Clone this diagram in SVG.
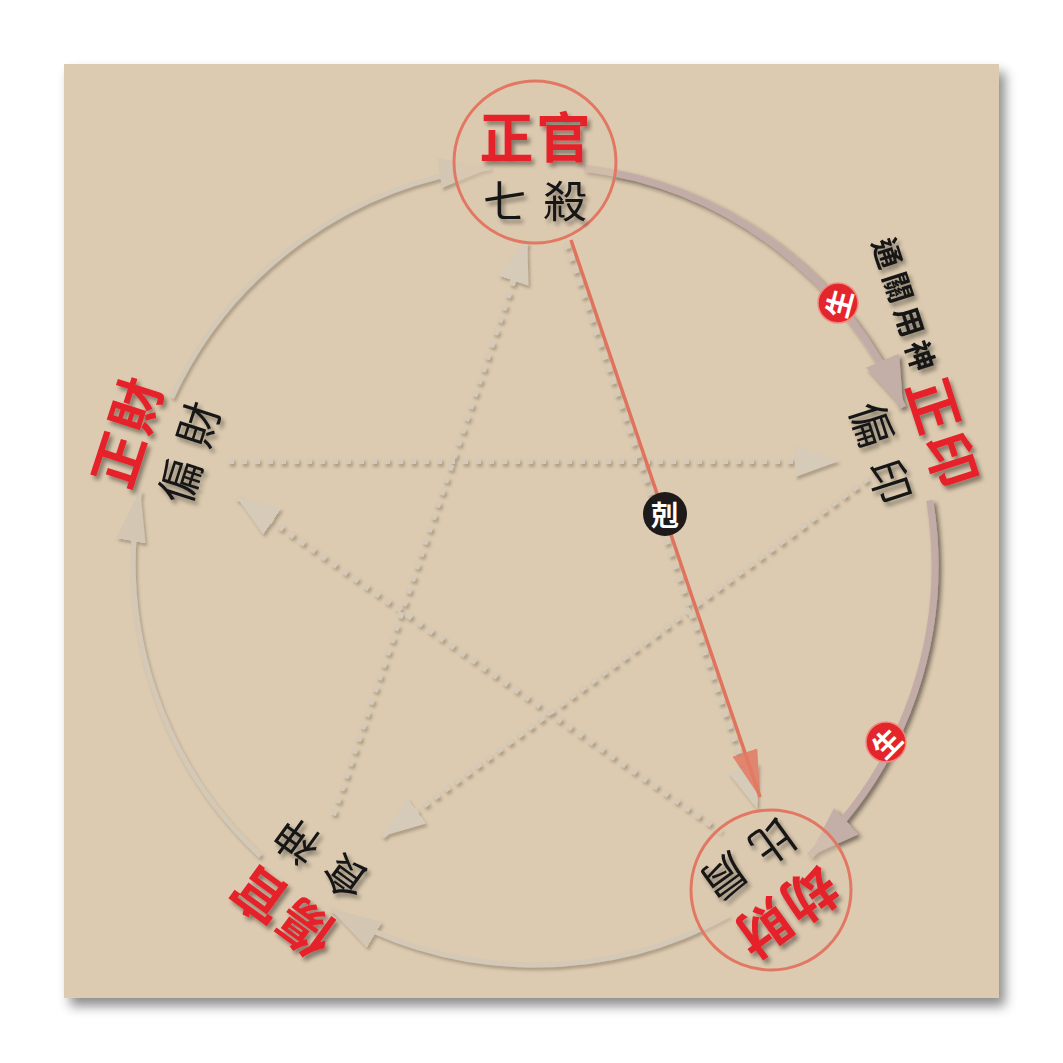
<svg xmlns="http://www.w3.org/2000/svg" width="1063" height="1063" viewBox="0 0 1063 1063">
<defs>
<style>
.main{font-family:"Noto Sans CJK TC","Noto Sans CJK SC",sans-serif;font-weight:700;font-size:54px;fill:#E5212B;text-anchor:middle;dominant-baseline:central;letter-spacing:3px}
.sub{font-family:"Noto Sans CJK TC","Noto Sans CJK SC",sans-serif;font-weight:400;font-size:44px;fill:#151515;text-anchor:middle;dominant-baseline:central;letter-spacing:16px}
.note{font-family:"Noto Sans CJK TC","Noto Sans CJK SC",sans-serif;font-weight:700;font-size:30px;fill:#151515;text-anchor:middle;dominant-baseline:central;letter-spacing:6px}
.badge{font-family:"Noto Sans CJK TC","Noto Sans CJK SC",sans-serif;font-weight:700;fill:#ffffff;text-anchor:middle;dominant-baseline:central}
.heavy{fill:none;stroke:#C3ACA7;stroke-width:7}
.light{fill:none;stroke:#D4C8B6;stroke-width:5}
.dot{fill:none;stroke:#D6CAB7;stroke-width:6;stroke-dasharray:6 7}
.ring{fill:#DCCBB0;fill-opacity:0.55;stroke:#E27863;stroke-width:3}
</style>
<filter id="paperShadow" x="-5%" y="-5%" width="115%" height="115%">
<feDropShadow dx="6" dy="8" stdDeviation="6" flood-color="#000" flood-opacity="0.45"/>
</filter>
<filter id="ts" x="-20%" y="-20%" width="140%" height="140%">
<feDropShadow dx="3" dy="4" stdDeviation="2" flood-color="#000" flood-opacity="0.4"/>
</filter>
<filter id="ls" x="-10%" y="-10%" width="120%" height="120%">
<feDropShadow dx="2" dy="3" stdDeviation="1.5" flood-color="#5a4a3a" flood-opacity="0.35"/>
</filter>
<filter id="hs" x="-10%" y="-10%" width="120%" height="120%">
<feDropShadow dx="3" dy="3" stdDeviation="2" flood-color="#2a1a1a" flood-opacity="0.55"/>
</filter>
<marker id="ahHeavy" markerUnits="userSpaceOnUse" markerWidth="52" markerHeight="36" viewBox="0 0 52 36" refX="51" refY="18" orient="auto">
<path d="M0,0 L52,18 L0,36 Z" fill="#C4AEA8"/>
</marker>
<marker id="ahLight" markerUnits="userSpaceOnUse" markerWidth="52" markerHeight="30" viewBox="0 0 52 30" refX="51" refY="15" orient="auto">
<path d="M0,0 L52,15 L0,30 Z" fill="#D3C6B3"/>
</marker>
<marker id="ahDot" markerUnits="userSpaceOnUse" markerWidth="44" markerHeight="32" viewBox="0 0 44 32" refX="43" refY="16" orient="auto">
<path d="M0,0 L44,16 L0,32 Z" fill="#D6CBB8"/>
</marker>
<marker id="ahRed" markerUnits="userSpaceOnUse" markerWidth="48" markerHeight="26" viewBox="0 0 48 26" refX="47" refY="13" orient="auto">
<path d="M0,0 L48,13 L0,26 Z" fill="#E27A63" fill-opacity="0.85"/>
</marker>
</defs>

<rect x="0" y="0" width="1063" height="1063" fill="#ffffff"/>
<rect x="64" y="64" width="935" height="934" fill="#DCCBB0" filter="url(#paperShadow)"/>

<g id="connectors">
<g filter="url(#ls)">
<path class="dot" d="M228,461 L838,461" marker-end="url(#ahDot)"/>
<path class="dot" d="M868,478 L382,836" marker-end="url(#ahDot)"/>
<path class="dot" d="M333,815 L527,240" marker-end="url(#ahDot)"/>
<path class="dot" d="M566,243 L757,808" marker-end="url(#ahDot)"/>
<path class="dot" d="M722,832 L237,497" marker-end="url(#ahDot)"/>
</g>
<g filter="url(#ls)">
<path class="light" d="M728.9,914.8 A400,400 0 0 1 330.7,908.9" marker-end="url(#ahLight)"/>
<path class="light" d="M260.7,856.1 A400,400 0 0 1 140,490.7" marker-end="url(#ahLight)"/>
<path class="light" d="M171.6,397.9 A400,400 0 0 1 490.4,167.5" marker-end="url(#ahLight)"/>
</g>
<g filter="url(#hs)">
<path class="heavy" d="M583.7,168 A400,400 0 0 1 902.7,407.4" marker-end="url(#ahHeavy)"/>
<path class="heavy" d="M929.7,500.4 A400,400 0 0 1 809.3,856.1" marker-end="url(#ahHeavy)"/>
</g>
<path d="M571,240 L760,797" fill="none" stroke="#E0735D" stroke-width="3.5" marker-end="url(#ahRed)"/>
<g id="badge-sheng1">
<circle cx="838" cy="303" r="20" fill="#E3262B" stroke="#F08A80" stroke-width="1.5"/>
<text class="badge" font-size="28" transform="translate(838,303) rotate(-75)" x="0" y="0">生</text>
</g>
<g id="badge-sheng2">
<circle cx="886" cy="742" r="20" fill="#E3262B" stroke="#F08A80" stroke-width="1.5"/>
<text class="badge" font-size="28" transform="translate(886,742) rotate(-45)" x="0" y="0">生</text>
</g>
<g id="badge-ke">
<circle cx="665" cy="514" r="22" fill="#1E1A1A"/>
<text class="badge" font-size="28" x="665" y="514">剋</text>
</g>
</g>

<g id="node-zhengguan">
<circle class="ring" cx="535" cy="162" r="81"/>
<g filter="url(#ts)">
<g transform="translate(535,163)">
<text class="main" x="1.5" y="-29">正官</text>
<text class="sub" x="8" y="36">七殺</text>
</g>
</g>
</g>

<g id="node-zhengyin">
<g filter="url(#ts)">
<g transform="translate(917.3,440.8) rotate(72)">
<text class="main" x="1.5" y="-30">正印</text>
<text class="note" x="-131" y="-31">通關用神</text>
<text class="sub" x="8" y="36">偏印</text>
</g>
</g>
</g>

<g id="node-jiecai">
<circle class="ring" cx="771" cy="890" r="80"/>
<g filter="url(#ts)">
<g transform="translate(771.3,890.2) rotate(144)">
<text class="main" x="1.5" y="-30">劫財</text>
<text class="sub" x="8" y="36">比肩</text>
</g>
</g>
</g>

<g id="node-shangguan">
<g filter="url(#ts)">
<g transform="translate(298.7,890.2) rotate(216)">
<text class="main" x="1.5" y="-30">傷官</text>
<text class="sub" x="8" y="36">食神</text>
</g>
</g>
</g>

<g id="node-zhengcai">
<g filter="url(#ts)">
<g transform="translate(152.7,440.8) rotate(-72)">
<text class="main" x="1.5" y="-30">正財</text>
<text class="sub" x="8" y="36">偏財</text>
</g>
</g>
</g>
</svg>
